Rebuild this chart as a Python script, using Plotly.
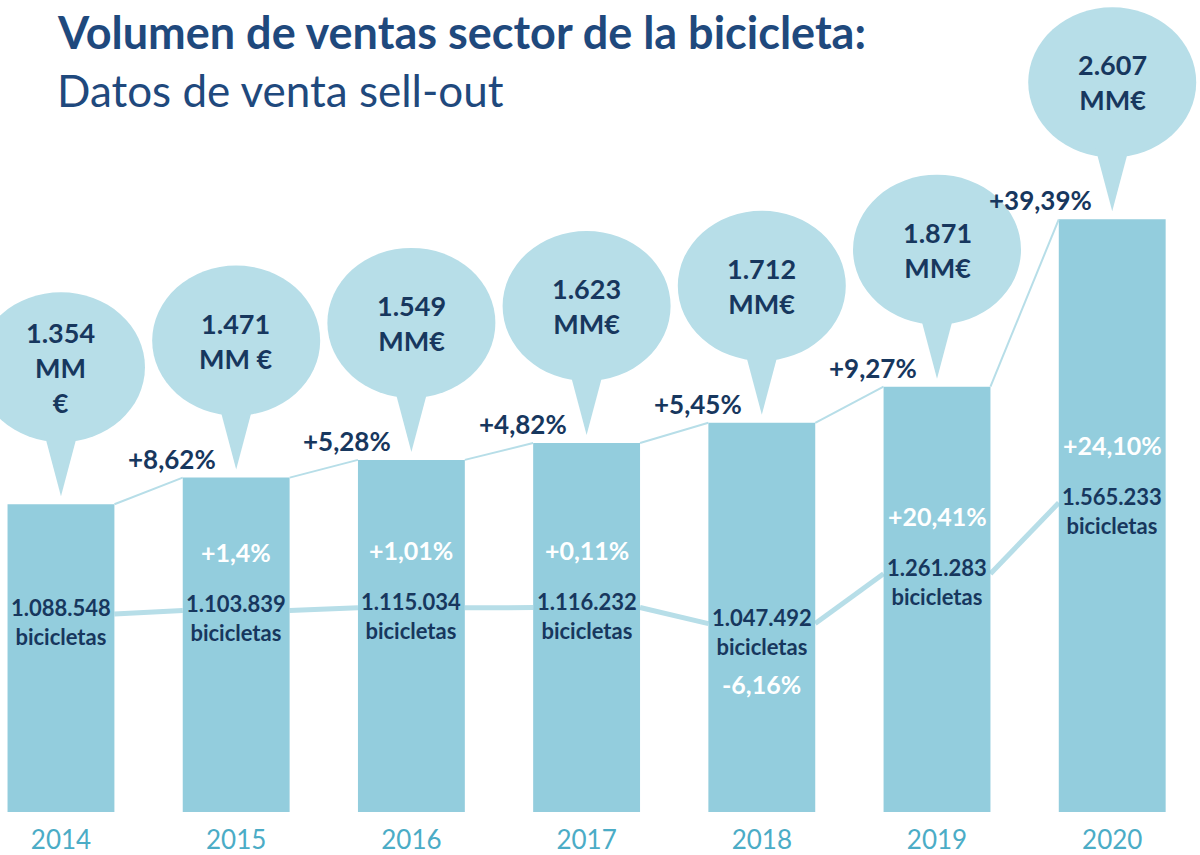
import plotly.graph_objects as go

# ---------------- data ----------------
years = [2014, 2015, 2016, 2017, 2018, 2019, 2020]
year_labels = ["2014", "2015", "2016", "2017", "2018", "2019", "2020"]
sales_mm = [1354, 1471, 1549, 1623, 1712, 1871, 2607]          # MM€
sales_units = ["MM<br>€", "MM €", "MM€", "MM€", "MM€", "MM€", "MM€"]
sales_growth = ["", "+8,62%", "+5,28%", "+4,82%", "+5,45%", "+9,27%", "+39,39%"]
bikes = [1088548, 1103839, 1115034, 1116232, 1047492, 1261283, 1565233]
bikes_growth = ["", "+1,4%", "+1,01%", "+0,11%", "-6,16%", "+20,41%", "+24,10%"]

# ---------------- styling ----------------
FONT = "Lato"
NAVY = "#17375e"
TITLE_C = "#1f497d"
BAR_C = "#93cddd"
LIGHT = "#b7dee8"
YEAR_C = "#4bacc6"
BAR_W = 0.61
X_RANGE = [2013.652, 2020.501]
SALES_RANGE = [0, 3572]
BIKES_RANGE = [240000, 3720000]
PLOT_H = 814


def es_num(n):
    return f"{n:,}".replace(",", ".")


def edge_segments(xs, ys, half):
    sx, sy = [], []
    for i in range(len(xs) - 1):
        sx += [xs[i] + half, xs[i + 1] - half, None]
        sy += [ys[i], ys[i + 1], None]
    return sx, sy


fig = go.Figure()

bx, by = edge_segments(years, bikes, BAR_W / 2)
fig.add_trace(go.Scatter(x=bx, y=by, mode="lines", yaxis="y",
                         line=dict(color=LIGHT, width=5), hoverinfo="skip",
                         showlegend=False))

sx, sy = edge_segments(years, sales_mm, BAR_W / 2)
fig.add_trace(go.Scatter(x=sx, y=sy, mode="lines", yaxis="y2",
                         line=dict(color=LIGHT, width=2), hoverinfo="skip",
                         showlegend=False))

fig.add_trace(go.Bar(x=years, y=sales_mm, width=BAR_W, yaxis="y2",
                     marker=dict(color=BAR_C, line=dict(width=0)),
                     hoverinfo="skip", showlegend=False))

shapes = []
annotations = []
for i, (yr, v) in enumerate(zip(years, sales_mm)):
    # speech bubble anchored on the bar top
    shapes.append(dict(type="circle", xref="x", yref="y2",
                       xsizemode="pixel", ysizemode="pixel",
                       xanchor=yr, yanchor=v,
                       x0=-84, x1=84, y0=62, y1=212,
                       fillcolor=LIGHT, line=dict(width=0), layer="above"))
    shapes.append(dict(type="path", xref="x", yref="y2",
                       xsizemode="pixel", ysizemode="pixel",
                       xanchor=yr, yanchor=v,
                       path="M -17,72 L 0,8 L 17,72 Z",
                       fillcolor=LIGHT, line=dict(width=0), layer="above"))
    annotations.append(dict(x=yr, y=v, xref="x", yref="y2", yshift=137,
                            text=f"<b>{es_num(v)}<br>{sales_units[i]}</b>",
                            showarrow=False, xanchor="center", yanchor="middle",
                            font=dict(family=FONT, size=27, color=NAVY)))
    if sales_growth[i]:
        annotations.append(dict(x=yr, y=v, xref="x", yref="y2",
                                xshift=-18, yshift=19,
                                text=f"<b>{sales_growth[i]}</b>", showarrow=False,
                                xanchor="right", yanchor="middle",
                                font=dict(family=FONT, size=26, color=NAVY)))

for i, (yr, b) in enumerate(zip(years, bikes)):
    annotations.append(dict(x=yr, y=b, xref="x", yref="y", yshift=-8,
                            text=f"<b>{es_num(b)}<br>bicicletas</b>",
                            showarrow=False, xanchor="center", yanchor="middle",
                            font=dict(family=FONT, size=22, color=NAVY)))
    if bikes_growth[i]:
        neg = bikes_growth[i].startswith("-")
        annotations.append(dict(x=yr, y=b, xref="x", yref="y",
                                yshift=-60 if neg else 58,
                                text=f"<b>{bikes_growth[i]}</b>", showarrow=False,
                                xanchor="center", yanchor="middle",
                                font=dict(family=FONT, size=25, color="white")))

annotations.append(dict(xref="paper", yref="paper", x=55 / 1200, y=1 - 32 / PLOT_H,
                        text="<b>Volumen de ventas sector de la bicicleta:</b>",
                        showarrow=False, xanchor="left", yanchor="middle",
                        font=dict(family=FONT, size=45, color=TITLE_C)))
annotations.append(dict(xref="paper", yref="paper", x=55 / 1200, y=1 - 90 / PLOT_H,
                        text="Datos de venta sell-out",
                        showarrow=False, xanchor="left", yanchor="middle",
                        font=dict(family=FONT, size=44, color=TITLE_C)))

fig.update_layout(
    width=1200, height=855,
    margin=dict(l=0, r=0, t=0, b=855 - PLOT_H),
    paper_bgcolor="white", plot_bgcolor="white",
    showlegend=False, hovermode=False,
    shapes=shapes, annotations=annotations,
    xaxis=dict(range=X_RANGE, tickvals=years, ticktext=year_labels,
               showgrid=False, zeroline=False, showline=False, ticks="",
               ticklabelstandoff=10,
               tickfont=dict(family=FONT, size=26, color=YEAR_C)),
    yaxis=dict(range=BIKES_RANGE, visible=False, showgrid=False, zeroline=False),
    yaxis2=dict(range=SALES_RANGE, overlaying="y", visible=False,
                showgrid=False, zeroline=False),
)

fig.write_html("out.html",
               config={"displayModeBar": False, "staticPlot": True},
               post_script="document.body.style.margin='0';document.body.style.overflow='hidden';")
